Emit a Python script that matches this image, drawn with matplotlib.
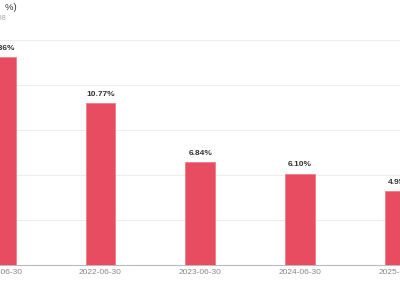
import matplotlib.pyplot as plt

plt.rcParams['font.family'] = ['Liberation Sans', 'Noto Sans CJK SC', 'DejaVu Sans']

dates = ['2021-06-30', '2022-06-30', '2023-06-30', '2024-06-30', '2025-06-30']
values = [13.86, 10.77, 6.84, 6.10, 4.95]

bar_color = '#e84c60'

fig = plt.figure(figsize=(4, 3), dpi=100)
ax = fig.add_axes([0, 35 / 300, 1, 225 / 300])

x = range(len(dates))
ax.bar(x, values, width=0.3, color=bar_color, edgecolor='#f07a88', linewidth=0.6, zorder=3)

for i, v in zip(x, values):
    ax.text(i, v + 0.35, f'{v:.2f}%', ha='center', va='bottom',
            fontsize=6, fontweight='bold', color='#333333')

ax.set_xlim(-0.007, 3.993)
ax.set_ylim(0, 15)
ax.set_yticks([0, 3, 6, 9, 12, 15])
ax.yaxis.grid(True, color='#ececec', linewidth=0.7, zorder=0)
ax.set_yticklabels([])
ax.tick_params(axis='y', length=0)
ax.set_xticks(list(x))
ax.set_xticklabels(dates, fontsize=6, color='#888888')
ax.tick_params(axis='x', length=0, pad=3)

for s in ['top', 'right', 'left']:
    ax.spines[s].set_visible(False)
ax.spines['bottom'].set_color('#bbbbbb')
ax.spines['bottom'].set_linewidth(0.8)

fig.text(17 / 400, 1 - 7 / 300, '净利率(  %)', ha='right', va='center',
         fontsize=6.8, color='#333333')
fig.text(6 / 400, 1 - 19 / 300, '2008', ha='right', va='center',
         fontsize=5.5, color='#aaaaaa')

fig.savefig('out.png', dpi=100)
